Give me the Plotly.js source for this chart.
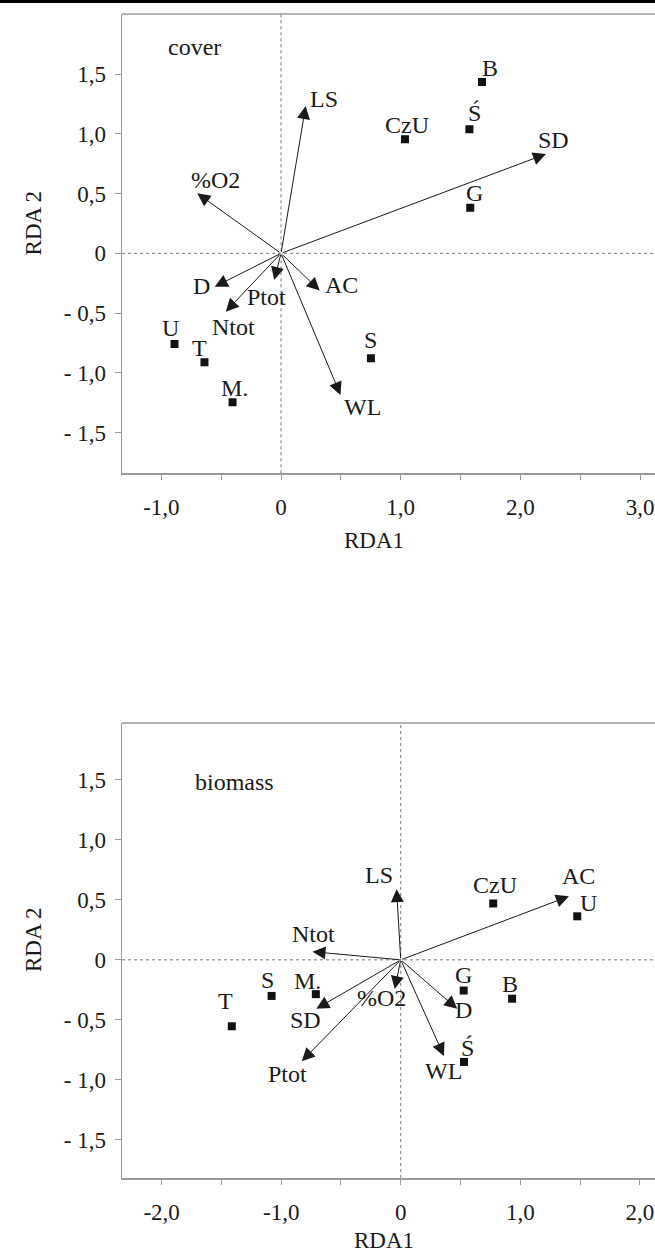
<!DOCTYPE html>
<html>
<head>
<meta charset="utf-8">
<script src="https://cdn.plot.ly/plotly-3.0.1.min.js"></script>
<style>
  html, body { margin: 0; padding: 0; background: #fff; }
  #chart { width: 655px; height: 1254px; }
  #topbar { position: absolute; left: 0; top: 0; width: 655px; height: 3px; background: #000; z-index: 10; }
</style>
</head>
<body>
<div id="topbar"></div>
<div id="chart"></div>
<script>
// ---------- DATA: cover ----------
const coverSites = ['B', 'Ś', 'CzU', 'G', 'S', 'U', 'T', 'M.'];
const coverSiteX = [1.679, 1.574, 1.036, 1.581, 0.751, -0.890, -0.640, -0.405];
const coverSiteY = [1.434, 1.038, 0.954, 0.382, -0.879, -0.759, -0.912, -1.247];
const coverVars = ['LS', '%O2', 'SD', 'D', 'Ptot', 'Ntot', 'AC', 'WL'];
const coverVarX = [0.206, -0.700, 2.214, -0.554, -0.057, -0.462, 0.323, 0.497];
const coverVarY = [1.233, 0.502, 0.831, -0.279, -0.223, -0.488, -0.312, -1.185];

// ---------- DATA: biomass ----------
const bioSites = ['CzU', 'U', 'G', 'B', 'Ś', 'S', 'M.', 'T'];
const bioSiteX = [0.773, 1.476, 0.526, 0.931, 0.529, -1.080, -0.710, -1.413];
const bioSiteY = [0.470, 0.363, -0.256, -0.324, -0.851, -0.301, -0.286, -0.554];
const bioVars = ['LS', 'Ntot', 'AC', '%O2', 'SD', 'Ptot', 'D', 'WL'];
const bioVarX = [-0.035, -0.738, 1.406, -0.051, -0.706, -0.827, 0.472, 0.361];
const bioVarY = [0.589, 0.068, 0.530, -0.244, -0.408, -0.845, -0.408, -0.801];

// ---------- tick labels ----------
const yTickVals = [-1.5, -1, -0.5, 0, 0.5, 1, 1.5];
const yTickText = ['- 1,5', '- 1,0', '- 0,5', '0', '0,5', '1,0', '1,5'];
const coverXTickVals = [-1, -0.5, 0, 0.5, 1, 1.5, 2, 2.5, 3];
const coverXTickText = ['-1,0', '', '0', '', '1,0', '', '2,0', '', '3,0'];
const bioXTickVals = [-2, -1.5, -1, -0.5, 0, 0.5, 1, 1.5, 2];
const bioXTickText = ['-2,0', '', '-1,0', '', '0', '', '1,0', '', '2,0'];

// ---------- label placement (pixel offsets, style only) ----------
const coverSiteLabelShift = [[8, 14], [5, 16], [2, 14], [4, 15], [0, 18], [-4, 16], [-5, 14], [2, 14]];
const coverVarLabelShift = [[18, 7], [18, 13], [8, 14], [-13, 1], [-8, -17], [8, -15], [22, 6], [22, -12]];
const bioSiteLabelShift = [[2, 18], [11, 13], [0, 16], [-2, 15], [3, 14], [-4, 16], [-8, 13], [-6, 25]];
const bioVarLabelShift = [[-18, 14], [1, 18], [10, 20], [-13, -9], [-11, -11], [-14, -13], [6, -1], [0, -15]];

const FONT = '"Liberation Serif", "Times New Roman", Times, serif';
const TXT = '#1a1a1a';
const AXC = '#9a9a9a';

const traces = [
  { x: coverSiteX, y: coverSiteY, type: 'scatter', mode: 'markers', xaxis: 'x', yaxis: 'y',
    marker: { symbol: 'square', size: 8, color: '#111' }, hoverinfo: 'skip', showlegend: false },
  { x: bioSiteX, y: bioSiteY, type: 'scatter', mode: 'markers', xaxis: 'x2', yaxis: 'y2',
    marker: { symbol: 'square', size: 8, color: '#111' }, hoverinfo: 'skip', showlegend: false }
];

const annotations = [];
function addArrows(vx, vy, xr, yr) {
  for (let i = 0; i < vx.length; i++) {
    annotations.push({ x: vx[i], y: vy[i], ax: 0, ay: 0, xref: xr, yref: yr, axref: xr, ayref: yr,
      showarrow: true, arrowhead: 2, arrowsize: 2.6, arrowwidth: 1, arrowcolor: '#1a1a1a', text: '', standoff: 0 });
  }
}
function addLabels(names, px, py, shifts, xr, yr) {
  for (let i = 0; i < names.length; i++) {
    annotations.push({ x: px[i], y: py[i], xref: xr, yref: yr, text: names[i], showarrow: false,
      xshift: shifts[i][0], yshift: shifts[i][1], xanchor: 'center', yanchor: 'middle',
      font: { family: FONT, size: 24, color: TXT } });
  }
}
addArrows(coverVarX, coverVarY, 'x', 'y');
addArrows(bioVarX, bioVarY, 'x2', 'y2');
addLabels(coverSites, coverSiteX, coverSiteY, coverSiteLabelShift, 'x', 'y');
addLabels(coverVars, coverVarX, coverVarY, coverVarLabelShift, 'x', 'y');
addLabels(bioSites, bioSiteX, bioSiteY, bioSiteLabelShift, 'x2', 'y2');
addLabels(bioVars, bioVarX, bioVarY, bioVarLabelShift, 'x2', 'y2');

// panel names
annotations.push({ x: -0.723, y: 1.729, xref: 'x', yref: 'y', text: 'cover', showarrow: false,
  font: { family: FONT, size: 24, color: TXT } });
annotations.push({ x: -1.389, y: 1.485, xref: 'x2', yref: 'y2', text: 'biomass', showarrow: false,
  font: { family: FONT, size: 24, color: TXT } });

// axis titles
const titleFont = { family: FONT, size: 23, color: TXT };
annotations.push({ x: -0.167, y: 0.8209, xref: 'paper', yref: 'paper', text: 'RDA 2', textangle: -90,
  showarrow: false, xanchor: 'center', yanchor: 'middle', font: titleFont });
annotations.push({ x: -0.167, y: 0.2053, xref: 'paper', yref: 'paper', text: 'RDA 2', textangle: -90,
  showarrow: false, xanchor: 'center', yanchor: 'middle', font: titleFont });
annotations.push({ x: 0.4728, y: 0.5481, xref: 'paper', yref: 'paper', text: 'RDA1',
  showarrow: false, xanchor: 'center', yanchor: 'middle', font: titleFont });
annotations.push({ x: 0.4916, y: -0.0533, xref: 'paper', yref: 'paper', text: 'RDA1',
  showarrow: false, xanchor: 'center', yanchor: 'middle', font: titleFont });

const tickFont = { family: FONT, size: 23, color: TXT };
function xAxis(range, vals, text, anchor) {
  return { range: range, domain: [0, 1], anchor: anchor, tickmode: 'array', tickvals: vals, ticktext: text,
    ticks: 'outside', ticklen: 5, tickcolor: AXC, tickwidth: 1, showline: true, linecolor: AXC, linewidth: 1.5,
    showgrid: false, zeroline: false, tickfont: tickFont, ticklabelstandoff: 8, fixedrange: true };
}
function yAxis(range, domain, anchor) {
  return { range: range, domain: domain, anchor: anchor, tickmode: 'array', tickvals: yTickVals, ticktext: yTickText,
    ticks: 'outside', ticklen: 6, tickcolor: AXC, tickwidth: 1, showline: true, linecolor: AXC, linewidth: 1.5,
    showgrid: false, zeroline: false, tickfont: tickFont, ticklabelstandoff: 4, fixedrange: true };
}

const shapes = [
  // dotted zero lines
  { type: 'line', xref: 'x', yref: 'y domain', x0: 0, x1: 0, y0: 0, y1: 1, line: { color: '#777', width: 1, dash: 'dot' } },
  { type: 'line', xref: 'x domain', yref: 'y', x0: 0, x1: 1, y0: 0, y1: 0, line: { color: '#777', width: 1, dash: 'dot' } },
  { type: 'line', xref: 'x2', yref: 'y2 domain', x0: 0, x1: 0, y0: 0, y1: 1, line: { color: '#777', width: 1, dash: 'dot' } },
  { type: 'line', xref: 'x2 domain', yref: 'y2', x0: 0, x1: 1, y0: 0, y1: 0, line: { color: '#777', width: 1, dash: 'dot' } },
  // top frame lines
  { type: 'line', xref: 'x domain', yref: 'y domain', x0: 0, x1: 1, y0: 1, y1: 1, line: { color: AXC, width: 1.5 } },
  { type: 'line', xref: 'x2 domain', yref: 'y2 domain', x0: 0, x1: 1, y0: 1, y1: 1, line: { color: AXC, width: 1.5 } }
];

const layout = {
  width: 655, height: 1254,
  margin: { l: 122, r: 0, t: 14, b: 76, pad: 0 },
  paper_bgcolor: '#fff', plot_bgcolor: '#fff',
  showlegend: false,
  font: { family: FONT, color: TXT },
  xaxis: xAxis([-1.329, 3.125], coverXTickVals, coverXTickText, 'y'),
  yaxis: yAxis([-1.841, 2.003], [0.6054, 1], 'x'),
  xaxis2: xAxis([-2.331, 2.126], bioXTickVals, bioXTickText, 'y2'),
  yaxis2: yAxis([-1.819, 1.975], [0, 0.3909], 'x2'),
  shapes: shapes,
  annotations: annotations
};

Plotly.newPlot('chart', traces, layout, { displayModeBar: false, staticPlot: true });
</script>
</body>
</html>
